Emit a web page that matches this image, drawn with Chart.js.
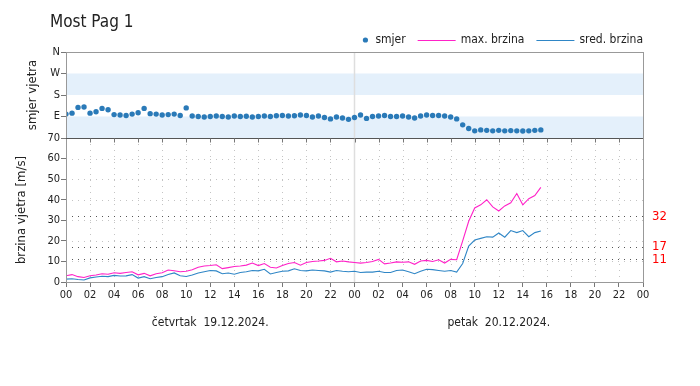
<!DOCTYPE html>
<html>
<head>
<meta charset="utf-8">
<script src="https://cdn.jsdelivr.net/npm/chart.js@4.4.1/dist/chart.umd.min.js"></script>
<style>
html,body{margin:0;padding:0;background:#fff}
</style>
</head>
<body>
<canvas id="mycanvas" width="700" height="386"></canvas>
<script>
// mjerenja svakih pola sata, od 00:00 19.12.2024.
var korak = 0.5;
var maxBrzina = [
	3.0,3.6,2.6,2.2,3.0,3.4,4.0,3.8,4.5,4.2,4.6,5.0,3.5,4.2,3.0,4.0,
	4.5,5.8,5.5,5.0,5.2,6.0,7.2,7.8,8.0,8.4,6.5,7.0,7.5,7.8,8.2,9.2,
	8.0,9.0,7.2,6.8,8.0,9.0,9.5,8.2,9.5,10.0,10.2,10.5,11.5,9.8,10.2,9.8,
	9.5,9.2,9.5,10.0,11.0,8.8,9.2,9.8,9.6,9.8,8.6,10.2,10.5,10.0,10.8,9.2,
	11.0,10.8,20.0,29.5,36.0,37.5,40.0,36.5,34.5,37.0,38.5,43.0,37.5,40.5,42.0,46.0
];
var sredBrzina = [
	1.4,1.6,1.2,1.0,2.0,2.4,2.8,2.6,3.2,2.9,3.0,3.6,1.9,2.6,1.6,2.2,
	2.6,3.6,4.4,3.0,2.7,3.4,4.4,5.0,5.6,5.4,4.0,4.4,3.8,4.6,5.0,5.6,
	5.4,6.2,3.9,4.6,5.2,5.4,6.4,5.6,5.4,5.8,5.6,5.4,4.8,5.6,5.2,5.0,
	5.2,4.6,4.8,4.8,5.2,4.6,4.6,5.6,5.8,5.0,4.0,5.2,6.2,6.0,5.6,5.2,
	5.6,4.8,9.0,17.5,20.4,21.2,22.0,21.8,23.8,21.8,25.0,24.0,25.0,22.0,24.0,24.8
];
var smjer = [
	100,104,128,130,104,110,124,118,98,96,94,100,106,124,102,100,
	96,98,100,94,126,92,90,88,90,92,90,88,92,90,91,88,
	90,92,90,93,94,92,93,96,94,88,92,86,80,88,84,78,
	86,96,82,90,92,94,90,90,92,88,84,92,96,94,94,92,
	88,80,55,40,30,34,32,30,32,30,31,30,29,30,32,34
];
var pragovi = [11, 17, 32];
var smjerOznake = {0: '', 90: 'E', 180: 'S', 270: 'W', 360: 'N'};
var dani = [[12, 'četvrtak  19.12.2024.'], [36, 'petak  20.12.2024.']];
var naslov = 'Most Pag 1';

var font = "'DejaVu Sans Condensed', 'DejaVu Sans', sans-serif";
Chart.defaults.font.family = font;
Chart.defaults.color = '#222';

function niz(vrijednosti){
	var out = [];
	for (var i in vrijednosti) out.push({x: i * korak, y: vrijednosti[i]});
	return out;
}
function dvije(v){ v = v % 24; return (v < 10 ? '0' : '') + v; }

var crtez = {
	id: 'crtez',
	beforeDatasetsDraw: function(chart){
		var ctx = chart.ctx, x = chart.scales.x, yd = chart.scales.yDir, ys = chart.scales.ySpd;
		ctx.save();
		ctx.fillStyle = '#e4f0fb';
		[[0, 90], [180, 270]].forEach(function(p){
			var t = yd.getPixelForValue(p[1]), b = yd.getPixelForValue(p[0]);
			ctx.fillRect(x.left, t, x.right - x.left, b - t);
		});
		ctx.lineWidth = 1;
		ctx.strokeStyle = '#c4c4c4';
		ctx.setLineDash([1, 5]);
		for (var v = 10; v < 70; v += 10) {
			var py = Math.round(ys.getPixelForValue(v)) + 0.5;
			ctx.beginPath(); ctx.moveTo(x.left, py); ctx.lineTo(x.right, py); ctx.stroke();
		}
		for (var h = 2; h < 48; h += 2) {
			if (h == 24) continue;
			var px = Math.round(x.getPixelForValue(h)) + 0.5;
			ctx.beginPath(); ctx.moveTo(px, ys.top); ctx.lineTo(px, ys.bottom); ctx.stroke();
		}
		ctx.strokeStyle = '#555';
		ctx.setLineDash([1, 5]);
		pragovi.forEach(function(p){
			var py = Math.round(ys.getPixelForValue(p)) + 0.5;
			ctx.beginPath(); ctx.moveTo(x.left, py); ctx.lineTo(x.right, py); ctx.stroke();
		});
		ctx.setLineDash([]);
		ctx.strokeStyle = '#dedede';
		ctx.lineWidth = 1.5;
		var pn = x.getPixelForValue(24);
		ctx.beginPath(); ctx.moveTo(pn, yd.top); ctx.lineTo(pn, ys.bottom); ctx.stroke();
		ctx.restore();
	},
	afterDraw: function(chart){
		var ctx = chart.ctx, x = chart.scales.x, yd = chart.scales.yDir, ys = chart.scales.ySpd;
		var a = chart.chartArea;
		ctx.save();
		ctx.lineWidth = 1;
		ctx.strokeStyle = '#999';
		ctx.strokeRect(Math.round(a.left) + 0.5, Math.round(a.top) + 0.5, Math.round(a.right - a.left), Math.round(a.bottom - a.top));
		ctx.strokeStyle = '#555';
		var dy = Math.round(ys.top) + 0.5;
		ctx.beginPath(); ctx.moveTo(a.left, dy); ctx.lineTo(a.right, dy); ctx.stroke();
		ctx.strokeStyle = '#777';
		for (var h = 2; h < 48; h += 2) {
			var px = Math.round(x.getPixelForValue(h)) + 0.5;
			ctx.beginPath(); ctx.moveTo(px, dy); ctx.lineTo(px, dy + 4); ctx.stroke();
		}
		// pragovi - oznake
		ctx.fillStyle = '#ff0000';
		ctx.font = '13px ' + font;
		ctx.textAlign = 'left';
		ctx.textBaseline = 'middle';
		pragovi.forEach(function(p){
			ctx.fillText(String(p), a.right + 9, ys.getPixelForValue(p));
		});
		// naslov
		ctx.fillStyle = '#222';
		ctx.font = '17px ' + font;
		ctx.textBaseline = 'alphabetic';
		ctx.fillText(naslov, 50, 27);
		// datumi
		ctx.font = '12px ' + font;
		ctx.textAlign = 'center';
		ctx.textBaseline = 'middle';
		dani.forEach(function(d){
			ctx.fillText(d[1], x.getPixelForValue(d[0]), 323);
		});
		// legenda
		ctx.font = '12px ' + font;
		ctx.textAlign = 'left';
		var stavke = chart.data.datasets.map(function(ds){
			return {tekst: ds.label, boja: ds.borderColor, tocka: ds.showLine === false, w: ds.showLine === false ? 13 : 43};
		});
		var ukupno = 0;
		stavke.forEach(function(s, i){ s.tw = ctx.measureText(s.tekst).width; ukupno += s.w + s.tw + (i ? 12 : 0); });
		var lx = a.right - ukupno, ly = 40;
		stavke.forEach(function(s){
			if (s.tocka) {
				ctx.fillStyle = s.boja;
				ctx.beginPath(); ctx.arc(lx + 3, ly, 2.6, 0, Math.PI * 2); ctx.fill();
			} else {
				ctx.strokeStyle = s.boja; ctx.lineWidth = 1;
				ctx.beginPath(); ctx.moveTo(lx, ly + 0.5); ctx.lineTo(lx + 38, ly + 0.5); ctx.stroke();
			}
			ctx.fillStyle = '#222';
			ctx.fillText(s.tekst, lx + s.w, ly);
			lx += s.w + s.tw + 12;
		});
		ctx.restore();
	}
};

var ctx = document.getElementById('mycanvas');
var graf = new Chart(ctx, {
	type: 'line',
	data: {
		datasets: [
			{
				label: 'smjer',
				data: niz(smjer),
				yAxisID: 'yDir',
				showLine: false,
				pointRadius: 2.7,
				pointBorderWidth: 0,
				backgroundColor: '#2a7ab8',
				borderColor: '#2a7ab8'
			},
			{
				label: 'max. brzina',
				data: niz(maxBrzina),
				yAxisID: 'ySpd',
				borderColor: '#ff22c8',
				borderWidth: 1.1,
				pointRadius: 0,
				tension: 0
			},
			{
				label: 'sred. brzina',
				data: niz(sredBrzina),
				yAxisID: 'ySpd',
				borderColor: '#2f86c6',
				borderWidth: 1.1,
				pointRadius: 0,
				tension: 0
			}
		]
	},
	options: {
		responsive: false,
		animation: false,
		layout: {padding: {top: 52, right: 57, left: 0, bottom: 0}},
		plugins: {legend: {display: false}, tooltip: {enabled: false}},
		scales: {
			x: {
				type: 'linear', min: 0, max: 48, position: 'bottom',
				afterFit: function(s){ s.height = 104; },
				grid: {drawOnChartArea: false, tickLength: 5, color: '#777'},
				border: {color: '#999'},
				ticks: {stepSize: 2, autoSkip: false, maxRotation: 0, padding: 2, font: {size: 11}, callback: function(v){ return dvije(v); }}
			},
			// u stogu: kasnije definirana os ide gore
			ySpd: {
				type: 'linear', position: 'left', stack: 'ploca', stackWeight: 144,
				min: 0, max: 70,
				afterFit: function(s){ s.width = 66; },
				grid: {drawOnChartArea: false, tickLength: 5, color: '#777'},
				border: {color: '#999'},
				ticks: {stepSize: 10, autoSkip: false, padding: 1, font: {size: 11}},
				title: {display: true, text: 'brzina vjetra [m/s]', font: {size: 13}, padding: {top: 14, bottom: 0}}
			},
			yDir: {
				type: 'linear', position: 'left', stack: 'ploca', stackWeight: 86,
				min: 0, max: 360,
				afterFit: function(s){ s.width = 66; },
				grid: {drawOnChartArea: false, tickLength: 5, color: '#777'},
				border: {color: '#999'},
				ticks: {stepSize: 90, autoSkip: false, padding: 1, font: {size: 11}, callback: function(v){ return smjerOznake[v]; }},
				title: {display: true, text: 'smjer vjetra', font: {size: 13}, padding: {top: 25, bottom: 0}}
			}
		}
	},
	plugins: [crtez]
});
</script>
</body>
</html>
